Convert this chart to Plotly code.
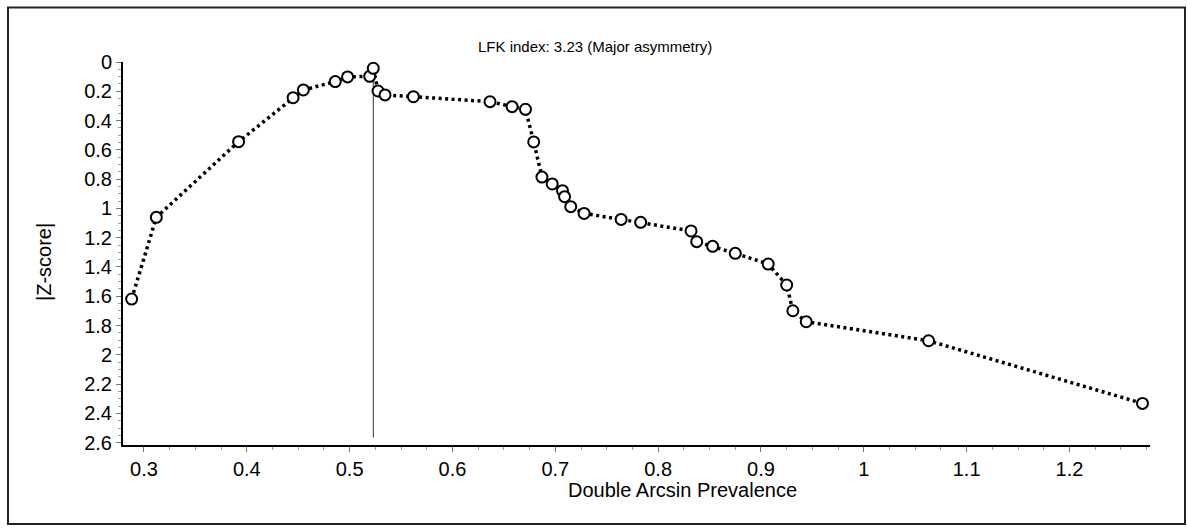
import plotly.graph_objects as go

# Data (Doi plot)
prevalence = [0.288, 0.312, 0.392, 0.445, 0.455, 0.486, 0.498, 0.5195, 0.523, 0.5276,
              0.5344, 0.562, 0.6365, 0.658, 0.671, 0.679, 0.687, 0.697, 0.707, 0.709,
              0.715, 0.728, 0.764, 0.783, 0.832, 0.8375, 0.853, 0.875, 0.907, 0.925,
              0.931, 0.944, 1.063, 1.271]
zscore = [1.619, 1.061, 0.544, 0.244, 0.191, 0.134, 0.102, 0.098, 0.043, 0.198,
          0.225, 0.237, 0.271, 0.305, 0.323, 0.546, 0.786, 0.833, 0.879, 0.920,
          0.988, 1.034, 1.075, 1.095, 1.154, 1.227, 1.259, 1.307, 1.380, 1.523,
          1.699, 1.774, 1.904, 2.332]
mid_x = [0.523, 0.523]
mid_y = [0.043, 2.565]
title_text = "LFK index: 3.23 (Major asymmetry)"
x_title = "Double Arcsin Prevalence"
y_title = "|Z-score|"

W, H = 1187, 528
L, R, T, B = 123, 37, 62, 83
PW, PH = W - L - R, H - T - B

def px(xp):
    return (xp - L) / PW

def py(yp):
    return 1 - (yp - T) / PH

FONT = "Liberation Sans, Arial, sans-serif"

fig = go.Figure()
fig.add_trace(go.Scatter(x=mid_x, y=mid_y, mode="lines",
                         line=dict(color="#333333", width=1), hoverinfo="skip",
                         showlegend=False))
fig.add_trace(go.Scatter(
    x=prevalence, y=zscore, mode="lines+markers", showlegend=False,
    line=dict(color="black", width=3.5, dash="3px,3.5px"),
    marker=dict(symbol="circle", size=11, color="white",
                line=dict(color="black", width=2)),
))

fig.update_layout(
    width=W, height=H,
    margin=dict(l=L, r=R, t=T, b=B),
    paper_bgcolor="white", plot_bgcolor="white",
    font=dict(family=FONT, size=20, color="black"),
    xaxis=dict(range=[0.2796, 1.2783], dtick=0.1, tick0=0, showgrid=False,
               zeroline=False, showline=True, linecolor="black", linewidth=2,
               ticks="outside", ticklen=5, tickcolor="#777777", tickwidth=1,
               minor=dict(dtick=0.025, ticks="outside", ticklen=3,
                          tickcolor="#999999", showgrid=False),
               tickfont=dict(size=20, family=FONT)),
    yaxis=dict(range=[2.616, 0], dtick=0.2, tick0=0, showgrid=False,
               zeroline=False, showline=True, linecolor="black", linewidth=2,
               ticks="outside", ticklen=5, tickcolor="#777777", tickwidth=1,
               minor=dict(dtick=0.05, ticks="outside", ticklen=3,
                          tickcolor="#999999", showgrid=False),
               tickfont=dict(size=20, family=FONT)),
    annotations=[
        dict(text=title_text, x=px(595), y=py(47), xref="paper", yref="paper",
             showarrow=False, xanchor="center", yanchor="middle",
             font=dict(size=15, family=FONT)),
        dict(text=x_title, x=px(682), y=py(490), xref="paper", yref="paper",
             showarrow=False, xanchor="center", yanchor="middle",
             font=dict(size=20, family=FONT)),
        dict(text=y_title, x=px(44), y=py(262), xref="paper", yref="paper",
             showarrow=False, xanchor="center", yanchor="middle", textangle=-90,
             font=dict(size=20, family=FONT)),
    ],
    shapes=[dict(type="rect", xref="paper", yref="paper",
                 x0=px(8), x1=px(1185), y0=py(524), y1=py(7.5),
                 line=dict(color="#222222", width=2), fillcolor="rgba(0,0,0,0)")],
)

fig.write_html("out.html",
               config={"displayModeBar": False},
               post_script="document.body.style.margin='0px';"
                           "document.body.style.overflow='hidden';")
